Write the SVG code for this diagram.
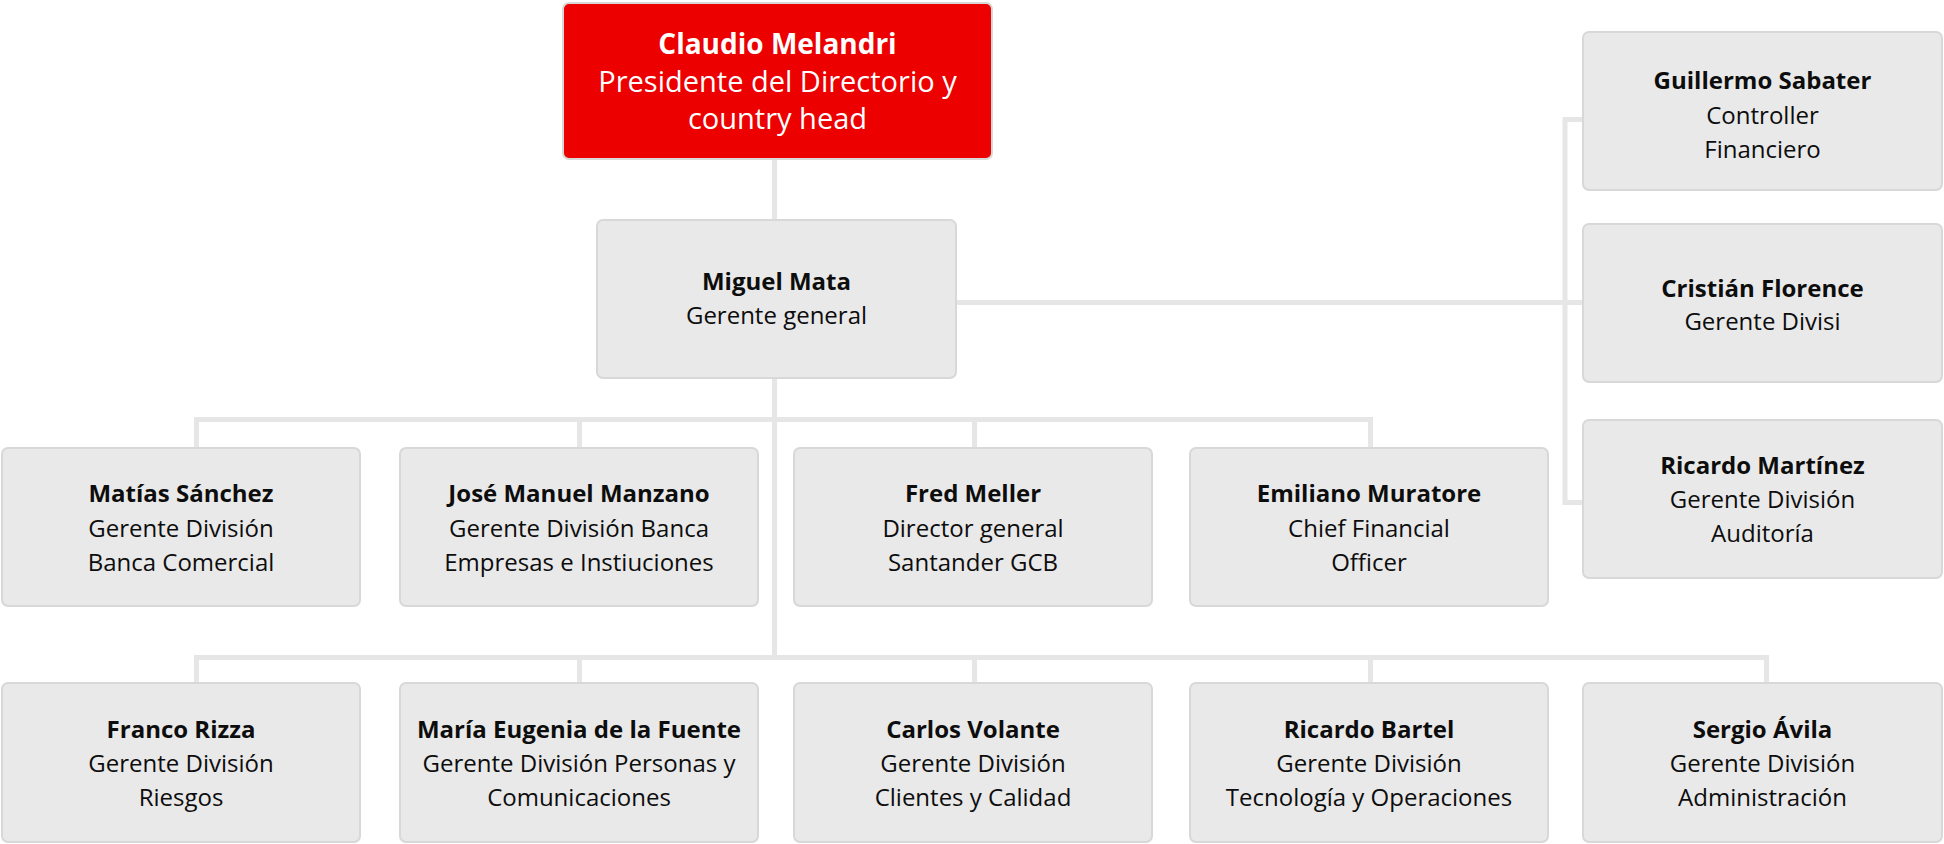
<svg xmlns="http://www.w3.org/2000/svg" width="1944" height="844" viewBox="0 0 1944 844">
<style>
.bg{fill:#ffffff}
.box{fill:#e9e9e9;stroke:#d8d8d8;stroke-width:2}
.red{fill:#ec0000;stroke:#d8d8d8;stroke-width:2}
.con{fill:none;stroke:#e6e6e6;stroke-width:5}
text{font-family:"Open Sans","Noto Sans","Liberation Sans",sans-serif;text-anchor:middle;fill:#0d0d0d;font-size:24px}
.b{font-weight:bold}
.w{fill:#ffffff;font-size:29px}
.w.b{font-size:28px}
</style>
<rect class="bg" x="0" y="0" width="1944" height="844"/>
<g id="connectors">
<path class="con" d="M774.5 159 V660"/>
<path class="con" d="M194 419.5 H1373 M196.5 417 V448 M579.5 417 V448 M974.5 417 V448 M1370.5 417 V448"/>
<path class="con" d="M194 657.5 H1769 M196.5 655 V683 M579.5 655 V683 M974.5 655 V683 M1370.5 655 V683 M1766.5 655 V683"/>
<path class="con" d="M956 302.5 H1583 M1565 117 V505 M1562.5 119.5 H1583 M1562.5 502.5 H1583"/>
</g>
<g id="claudio">
<rect class="red" x="563" y="3" width="429" height="156" rx="6"/>
<text class="w b" x="777.5" y="54">Claudio Melandri</text>
<text class="w" x="777.5" y="92">Presidente del Directorio y</text>
<text class="w" x="777.5" y="129">country head</text>
</g>
<g id="miguel">
<rect class="box" x="597" y="220" width="359" height="158" rx="6"/>
<text class="b" x="776.5" y="290">Miguel Mata</text>
<text x="776.5" y="324">Gerente general</text>
</g>
<g id="guillermo">
<rect class="box" x="1583" y="32" width="359" height="158" rx="6"/>
<text class="b" x="1762.5" y="89">Guillermo Sabater</text>
<text x="1762.5" y="124">Controller</text>
<text x="1762.5" y="158">Financiero</text>
</g>
<g id="cristian">
<rect class="box" x="1583" y="224" width="359" height="158" rx="6"/>
<text class="b" x="1762.5" y="297">Cristián Florence</text>
<text x="1762.5" y="330">Gerente Divisi</text>
</g>
<g id="ricardo-martinez">
<rect class="box" x="1583" y="420" width="359" height="158" rx="6"/>
<text class="b" x="1762.5" y="474">Ricardo Martínez</text>
<text x="1762.5" y="508">Gerente División</text>
<text x="1762.5" y="542">Auditoría</text>
</g>
<g id="matias">
<rect class="box" x="2" y="448" width="358" height="158" rx="6"/>
<text class="b" x="181" y="502">Matías Sánchez</text>
<text x="181" y="537">Gerente División</text>
<text x="181" y="571">Banca Comercial</text>
</g>
<g id="jose">
<rect class="box" x="400" y="448" width="358" height="158" rx="6"/>
<text class="b" x="579" y="502">José Manuel Manzano</text>
<text x="579" y="537">Gerente División Banca</text>
<text x="579" y="571">Empresas e Instiuciones</text>
</g>
<g id="fred">
<rect class="box" x="794" y="448" width="358" height="158" rx="6"/>
<text class="b" x="973" y="502">Fred Meller</text>
<text x="973" y="537">Director general</text>
<text x="973" y="571">Santander GCB</text>
</g>
<g id="emiliano">
<rect class="box" x="1190" y="448" width="358" height="158" rx="6"/>
<text class="b" x="1369" y="502">Emiliano Muratore</text>
<text x="1369" y="537">Chief Financial</text>
<text x="1369" y="571">Officer</text>
</g>
<g id="franco">
<rect class="box" x="2" y="683" width="358" height="159" rx="6"/>
<text class="b" x="181" y="738">Franco Rizza</text>
<text x="181" y="772">Gerente División</text>
<text x="181" y="806">Riesgos</text>
</g>
<g id="maria">
<rect class="box" x="400" y="683" width="358" height="159" rx="6"/>
<text class="b" x="579" y="738">María Eugenia de la Fuente</text>
<text x="579" y="772">Gerente División Personas y</text>
<text x="579" y="806">Comunicaciones</text>
</g>
<g id="carlos">
<rect class="box" x="794" y="683" width="358" height="159" rx="6"/>
<text class="b" x="973" y="738">Carlos Volante</text>
<text x="973" y="772">Gerente División</text>
<text x="973" y="806">Clientes y Calidad</text>
</g>
<g id="ricardo-bartel">
<rect class="box" x="1190" y="683" width="358" height="159" rx="6"/>
<text class="b" x="1369" y="738">Ricardo Bartel</text>
<text x="1369" y="772">Gerente División</text>
<text x="1369" y="806">Tecnología y Operaciones</text>
</g>
<g id="sergio">
<rect class="box" x="1583" y="683" width="359" height="159" rx="6"/>
<text class="b" x="1762.5" y="738">Sergio Ávila</text>
<text x="1762.5" y="772">Gerente División</text>
<text x="1762.5" y="806">Administración</text>
</g>
</svg>
